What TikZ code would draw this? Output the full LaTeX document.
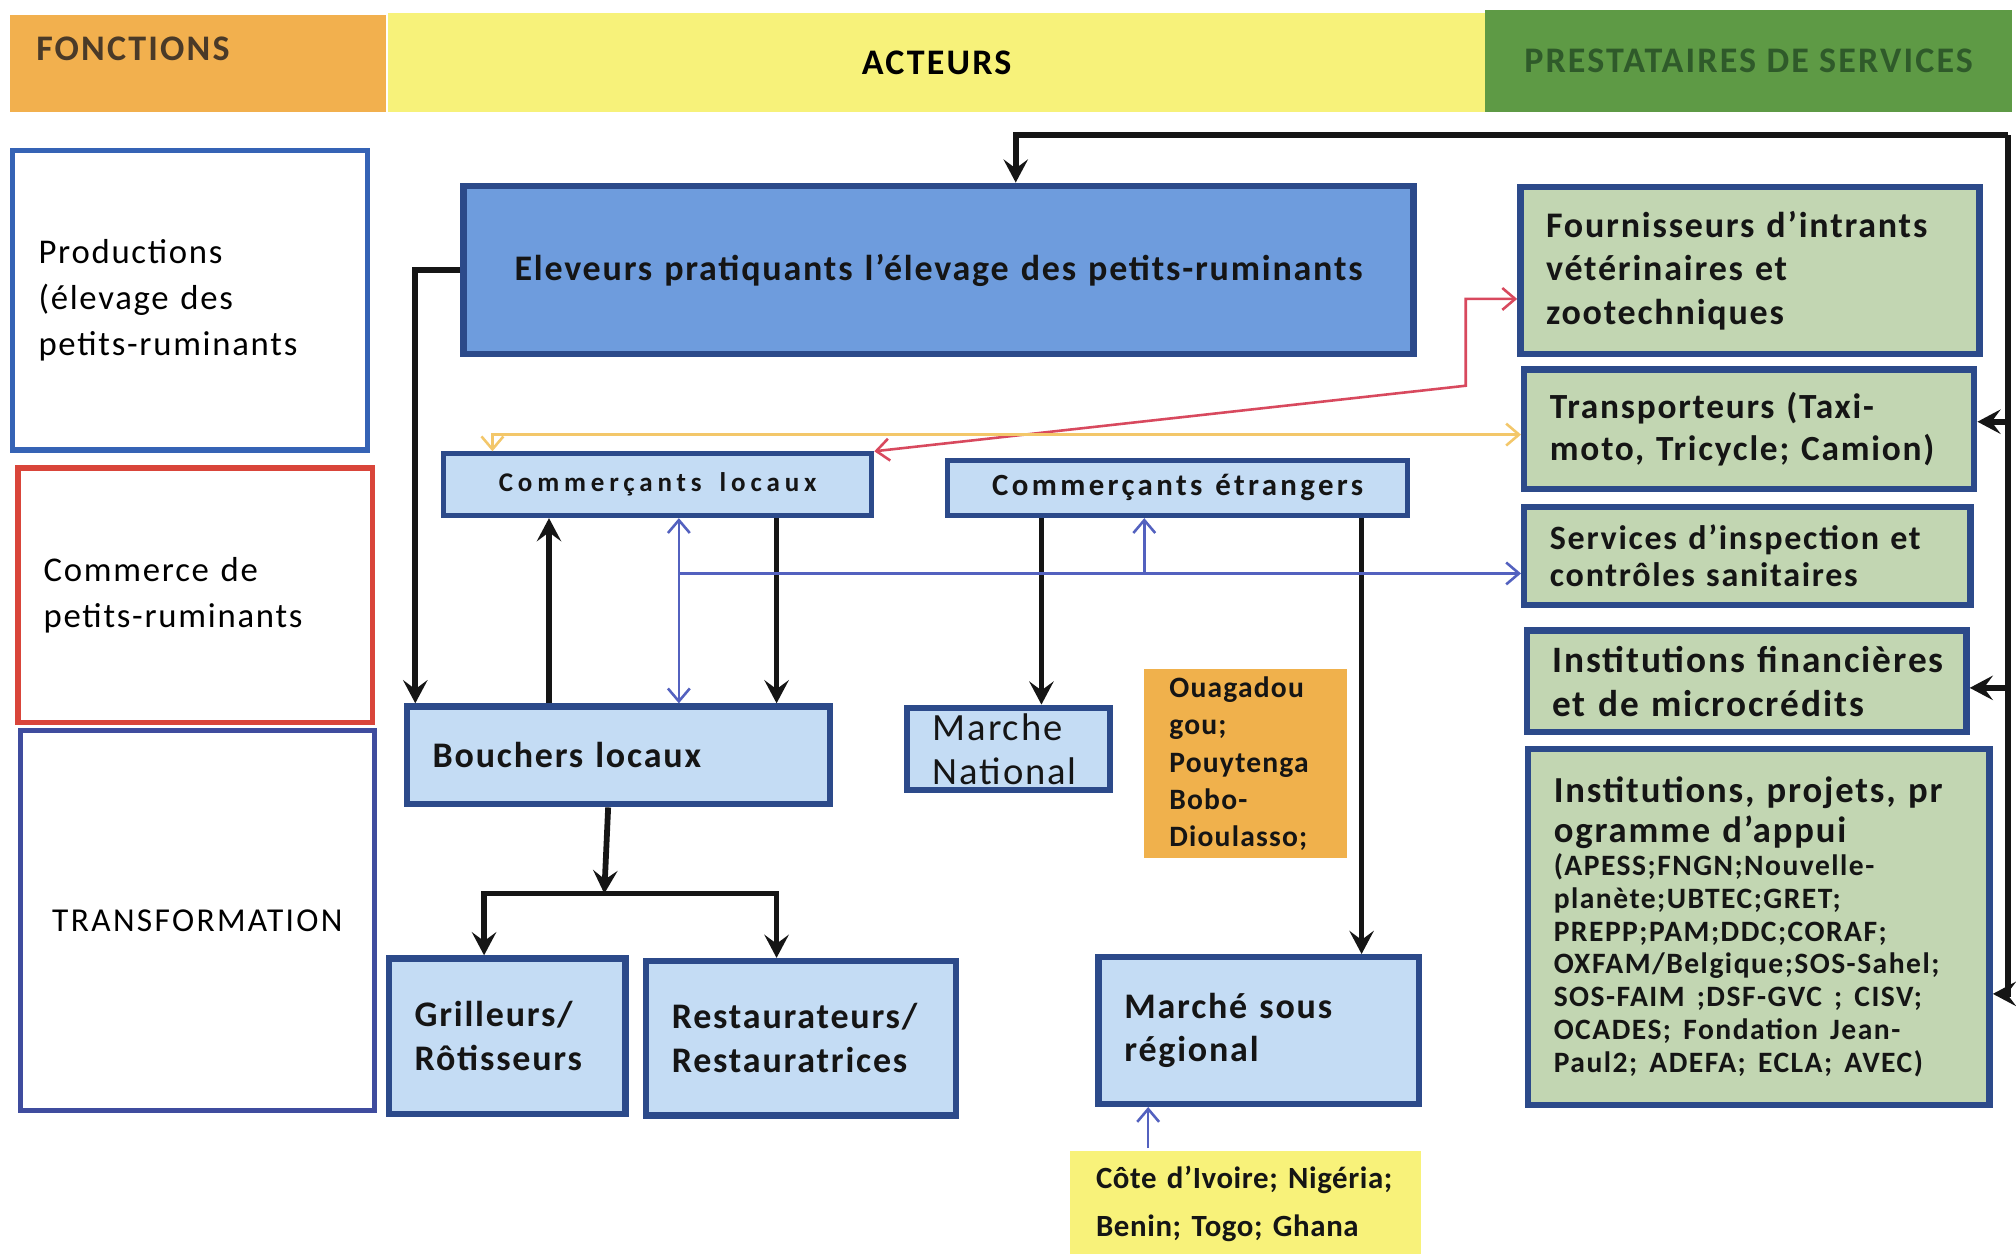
\documentclass[tikz,border=0pt]{standalone}
\usepackage{fontspec}
\setmainfont{Carlito}
\usepackage{tikz}
\usetikzlibrary{arrows.meta, positioning, calc}

% couleurs du schéma
\definecolor{orangeent}{HTML}{F2B04E}
\definecolor{brunent}{HTML}{4A3A28}
\definecolor{jauneent}{HTML}{F7F27A}
\definecolor{vertent}{HTML}{5E9A45}
\definecolor{vertfonce}{HTML}{2F5A2A}
\definecolor{bleufonc}{HTML}{3563B5}
\definecolor{rougefonc}{HTML}{D9453A}
\definecolor{bleutransf}{HTML}{3F4C9E}
\definecolor{bordure}{HTML}{2C4A8A}
\definecolor{bleumoyen}{HTML}{6E9CDD}
\definecolor{bleuclair}{HTML}{C4DCF4}
\definecolor{vertclair}{HTML}{C2D6B2}
\definecolor{orangeboite}{HTML}{F0B14C}
\definecolor{jauneboite}{HTML}{F8F27A}
\definecolor{noir}{HTML}{151515}
\definecolor{bleulien}{HTML}{5361BF}
\definecolor{rougelien}{HTML}{D8495E}
\definecolor{jaunelien}{HTML}{F3C76A}

\begin{document}
\begin{tikzpicture}[x=1pt, y=-1pt, % 以像素为单位,y向下
  entete/.style={font=\bfseries\fontsize{28}{32}\selectfont\addfontfeatures{LetterSpace=6}, inner sep=0pt},
  fonction/.style={draw, line width=4pt, fill=white, anchor=north west, align=left,
                   inner xsep=20pt, inner ysep=0pt,
                   font=\fontsize{27}{35.5}\selectfont\addfontfeatures{LetterSpace=5}},
  acteur/.style={draw=bordure, line width=5pt, fill=bleuclair, anchor=north west, align=left,
                 inner xsep=20pt, inner ysep=0pt, text=noir,
                 font=\bfseries\fontsize{28}{34}\selectfont\addfontfeatures{LetterSpace=5}},
  prestataire/.style={acteur, fill=vertclair},
  flux/.style={line width=4.5pt, draw=noir, >={Stealth[length=18pt,width=19pt,inset=7pt]}},
  lien/.style={line width=2pt, draw=bleulien, >={Straight Barb[length=10pt,width=17pt]}}]
\useasboundingbox (0,0) rectangle (1568,975); % 页面大小
\fill[white] (0,0) rectangle (1568,975);

% 表头
\fill[orangeent] (8,12) rectangle (300,87);
\node[entete, anchor=west, text=brunent] (fonc) at (28,38) {FONCTIONS};
\node[entete, fill=jauneent, minimum width=853pt, minimum height=77pt] (act) at (728.5,48.5) {ACTEURS};
\node[entete, fill=vertent, text=vertfonce, minimum width=410pt, minimum height=79pt] (prest) at (1360,47.5) {PRESTATAIRES DE SERVICES};

% 左列:功能
\node[fonction, draw=bleufonc, minimum width=276pt, minimum height=233pt, text width=236pt] (prod) at (8,115) {Productions\\(élevage des\\petits-ruminants};
\node[fonction, draw=rougefonc, minimum width=276pt, minimum height=198pt, text width=236pt] (comm) at (12,362) {Commerce de\\petits-ruminants};
\node[fonction, draw=bleutransf, minimum width=275pt, minimum height=296pt, text width=235pt, align=center,
      font=\fontsize{26}{30}\selectfont\addfontfeatures{LetterSpace=7}] (transf) at (14,566) {TRANSFORMATION};

% 中列:行动者
\node[acteur, fill=bleumoyen, minimum width=739pt, minimum height=131pt, text width=699pt, align=center] (elev) at (358,142) {Eleveurs pratiquants l'élevage des petits-ruminants};
\node[acteur, line width=4pt, minimum width=333pt, minimum height=48pt, text width=293pt, align=center,
      font=\bfseries\fontsize{21}{24}\selectfont\addfontfeatures{LetterSpace=18}] (cloc) at (343,351) {Commerçants\hspace{14pt}locaux};
\node[acteur, line width=4pt, minimum width=358pt, minimum height=43pt, text width=318pt, align=center,
      font=\bfseries\fontsize{24}{28}\selectfont\addfontfeatures{LetterSpace=11}] (cetr) at (735,356) {Commerçants\hspace{10pt}étrangers};
\node[acteur, minimum width=329pt, minimum height=76pt, text width=289pt] (bouch) at (314,547) {Bouchers locaux};
\node[acteur, minimum width=158pt, minimum height=64pt, text width=118pt,
      font=\fontsize{30}{34}\selectfont\addfontfeatures{LetterSpace=5}] (mnat) at (703,548) {Marche\\National};
\node[acteur, draw=none, fill=orangeboite, minimum width=158pt, minimum height=147pt, text width=118pt,
      font=\bfseries\fontsize{23}{29}\selectfont\addfontfeatures{LetterSpace=4}] (ouaga) at (887,518) {Ouagadou\\gou;\\Pouytenga\\Bobo-\\Dioulasso;};
\node[acteur, minimum width=184pt, minimum height=121pt, text width=144pt] (grill) at (300,743) {Grilleurs/\\Rôtisseurs};
\node[acteur, minimum width=241pt, minimum height=120pt, text width=201pt] (resto) at (500,745) {Restaurateurs/\\Restauratrices};
\node[acteur, minimum width=249pt, minimum height=114pt, text width=209pt,
      font=\bfseries\fontsize{28}{33}\selectfont\addfontfeatures{LetterSpace=5}] (msr) at (852,742) {Marché sous\\régional};
\node[acteur, draw=none, fill=jauneboite, minimum width=273pt, minimum height=82pt, text width=233pt,
      font=\bfseries\fontsize{24}{37}\selectfont\addfontfeatures{LetterSpace=2}] (pays) at (830,893) {Côte d'Ivoire; Nigéria;\\Benin; Togo; Ghana};

% 右列:服务提供者
\node[prestataire, minimum width=357pt, minimum height=130pt, text width=317pt] (fourn) at (1180,143) {Fournisseurs d'intrants\\vétérinaires et\\zootechniques};
\node[prestataire, minimum width=350pt, minimum height=93pt, text width=310pt,
      font=\bfseries\fontsize{27.5}{33}\selectfont\addfontfeatures{LetterSpace=5}] (transp) at (1183,285) {Transporteurs (Taxi-\\moto, Tricycle; Camion)};
\node[prestataire, minimum width=347pt, minimum height=76pt, text width=307pt,
      font=\bfseries\fontsize{26.5}{29}\selectfont\addfontfeatures{LetterSpace=5}] (serv) at (1183,392) {Services d'inspection et\\contrôles sanitaires};
\node[prestataire, minimum width=342pt, minimum height=79pt, text width=302pt,
      font=\bfseries\fontsize{29}{34}\selectfont\addfontfeatures{LetterSpace=5}] (ifin) at (1185,488) {Institutions financières\\et de microcrédits};
\node[prestataire, minimum width=359pt, minimum height=277pt, text width=319pt,
      font=\bfseries\fontsize{28.5}{31}\selectfont\addfontfeatures{LetterSpace=5}] (iproj) at (1186,580) {Institutions, projets, pr\\ogramme d'appui\par
  {\fontsize{23}{25.5}\selectfont (APESS;FNGN;Nouvelle-\\planète;UBTEC;GRET;\\PREPP;PAM;DDC;CORAF;\\OXFAM/Belgique;SOS-Sahel;\\SOS-FAIM ;DSF-GVC ; CISV;\\OCADES; Fondation Jean-\\Paul2; ADEFA; ECLA; AVEC)\par}};

% 黑色粗箭头
\coordinate (coin) at (1562,105); % 右上角拐点
\draw[flux, ->] (coin) -| ([xshift=60pt]elev.north);
\draw[flux, ->] (coin) |- ([yshift=6pt]transp.east);
\draw[flux, ->] (coin) |- ([yshift=-5pt]ifin.east);
\draw[flux, ->] (coin) |- ([yshift=-52pt]iproj.east);
\draw[flux, ->] (elev.west) -| ([xshift=9pt]bouch.north west);
\draw[flux, ->] ([xshift=113pt]bouch.north west) -- ([xshift=113pt]bouch.north west |- cloc.south);
\draw[flux, ->] ([xshift=-76pt]cloc.south east) -- ([xshift=-76pt]cloc.south east |- bouch.north);
\draw[flux, ->] ([xshift=75pt]cetr.south west) -- ([xshift=75pt]cetr.south west |- mnat.north);
\draw[flux, ->] ([xshift=-38pt]cetr.south east) -- ([xshift=-38pt]cetr.south east |- msr.north);
\coordinate (fourche) at (470,695); % 分叉点
\draw[flux, ->] ([xshift=-8pt]bouch.south) -- (fourche);
\draw[flux, ->] (fourche) -| ([xshift=-18pt]grill.north);
\draw[flux, ->] (fourche) -| ([xshift=-19pt]resto.north);

% 细线箭头
\draw[lien, <->] ([xshift=185pt]cloc.south west) -- ([xshift=185pt]cloc.south west |- bouch.north);
\coordinate (carrefour) at (528,446);
\draw[lien, ->] (carrefour) -- (carrefour -| serv.west);
\coordinate (embr) at (890,446);
\draw[lien, ->] (embr) -- (embr |- cetr.south);
\draw[lien, ->] ([xshift=63pt]pays.north west) -- ([xshift=63pt]pays.north west |- msr.south);
\coordinate (coude) at (1140,300); % 红线拐点
\draw[lien, draw=rougelien, <->] (cloc.north east) -- (coude) |- ([yshift=-22pt]fourn.west);
\draw[lien, draw=jaunelien, <->] ([xshift=40pt]cloc.north west) |- ([yshift=-4pt]transp.west);
\end{tikzpicture}
\end{document}
